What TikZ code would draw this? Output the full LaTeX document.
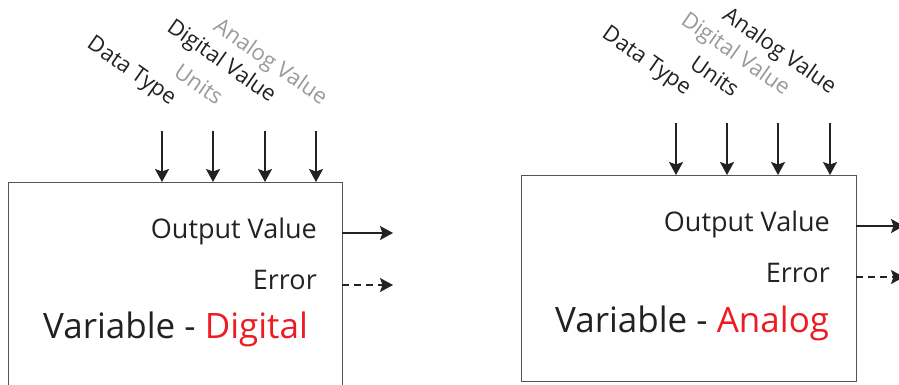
\documentclass[tikz,border=0pt]{standalone}
\usepackage{fontspec}
\setmainfont{Open Sans}
\usetikzlibrary{arrows.meta}
\definecolor{ink}{HTML}{222222}
\definecolor{lgray}{HTML}{9A9A9A}
\definecolor{vred}{HTML}{ED1C24}
\definecolor{boxline}{HTML}{555555}
\tikzset{
  blockbox/.style={draw=boxline,line width=1pt},
  inarrow/.style={draw=ink,line width=1.4pt,-{Stealth[length=13pt,width=14pt,inset=2.5pt]}},
  outarrow/.style={draw=ink,line width=1.4pt,-{Stealth[length=13pt,width=14pt,inset=2.5pt]}},
  errarrow/.style={outarrow,dash pattern=on 7pt off 5pt},
  inlabel/.style={rotate=-35,anchor=center,font=\fontsize{22}{24}\selectfont,inner sep=0pt},
  outlabel/.style={anchor=base east,font=\fontsize{27}{30}\selectfont,text=ink,inner sep=0pt},
  titlelabel/.style={anchor=base west,font=\fontsize{35}{38}\selectfont,text=ink,inner sep=0pt}
}
\begin{document}
\begin{tikzpicture}[x=1pt,y=-1pt]
\useasboundingbox (0,0) rectangle (899,384);
% ---------- left block ----------
\draw[blockbox] (8,390) -- (8,182) -- (342,182) -- (342,390);
\coordinate (lt1) at (162,182); \coordinate (lt2) at (213,182);
\coordinate (lt3) at (265,182); \coordinate (lt4) at (316,182);
\coordinate (ls1) at (162,131); \coordinate (ls2) at (213,131);
\coordinate (ls3) at (265,131); \coordinate (ls4) at (316,131);
\foreach \i in {1,...,4} \draw[inarrow] (ls\i) -- (lt\i);
\node[inlabel,text=ink] (ldt) at (131,72) {Data Type};
\node[inlabel,text=lgray] (lun) at (199,84) {Units};
\node[inlabel,text=ink] (ldv) at (221,62) {Digital Value};
\node[inlabel,text=lgray] (lav) at (270,63) {Analog Value};
\node[outlabel] (lov) at (317,238) {Output Value};
\node[outlabel] (ler) at (317,289) {Error};
\node[titlelabel] (lvar) at (43,338) {Variable - \textcolor{vred}{Digital}};
\coordinate (lo1) at (342,233); \coordinate (le1) at (393,233);
\coordinate (lo2) at (342,285); \coordinate (le2) at (393,285);
\draw[outarrow] (lo1) -- (le1);
\draw[errarrow] (lo2) -- (le2);
% ---------- right block ----------
\node[blockbox,minimum width=335pt,minimum height=206pt,anchor=north west,inner sep=0pt] (rbox) at (521,175) {};
\coordinate (rt1) at (676,175); \coordinate (rt2) at (727,175);
\coordinate (rt3) at (778,175); \coordinate (rt4) at (830,175);
\coordinate (rs1) at (676,123); \coordinate (rs2) at (727,123);
\coordinate (rs3) at (778,123); \coordinate (rs4) at (830,123);
\foreach \i in {1,...,4} \draw[inarrow] (rs\i) -- (rt\i);
\node[inlabel,text=ink] (rdt) at (646,62) {Data Type};
\node[inlabel,text=ink] (run) at (715,76) {Units};
\node[inlabel,text=lgray] (rdv) at (735,55) {Digital Value};
\node[inlabel,text=ink] (rav) at (779,52) {Analog Value};
\node[outlabel] (rov) at (830,231) {Output Value};
\node[outlabel] (rer) at (830,282) {Error};
\node[titlelabel] (rvar) at (555,332) {Variable - \textcolor{vred}{Analog}};
\coordinate (ro1) at (856,226); \coordinate (re1) at (904,226);
\coordinate (ro2) at (856,277); \coordinate (re2) at (904,277);
\draw[outarrow] (ro1) -- (re1);
\draw[errarrow] (ro2) -- (re2);
\end{tikzpicture}
\end{document}
